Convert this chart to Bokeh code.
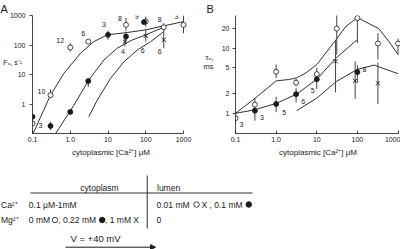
from bokeh.plotting import figure
from bokeh.layouts import column, row
from bokeh.models import (Range1d, FixedTicker, CustomJSTickFormatter, LabelSet, LogAxis,
                          ColumnDataSource, Arrow, NormalHead)
from bokeh.core.properties import value
from bokeh.embed import file_html
from bokeh.resources import INLINE
import math

FONT = "Liberation Sans"
INK = "#1a1a1a"

# ---------------- Panel A : open probability rate F_o ----------------
a_open_x = [0.1, 0.3, 1.0, 3.0, 30, 100, 300, 1000]
a_open_y = [0.22, 2.0, 82, 130, 480, 625, 400, 480]
a_open_lo = [0.22, 1.7, 60, 130, 310, 420, 326, 250]
a_open_hi = [0.22, 3.1, 115, 130, 820, 925, 550, 1000]
a_open_n = ["3", "10", "12", "6", "8", "", "8", "3"]

a_fill_x = [0.1, 0.3, 1.0, 3.0, 10, 30, 90]
a_fill_y = [0.37, 0.18, 0.54, 6.0, 221, 193, 597]
a_fill_lo = [0.37, 0.13, 0.54, 3.8, 150, 130, 480]
a_fill_hi = [0.37, 0.25, 0.54, 7.5, 310, 286, 750]
a_fill_n = ["", "", "", "", "3", "", "9"]

a_x_x = [28, 100, 300]
a_x_y = [130, 204, 149]
a_x_lo = [88, 130, 78]
a_x_hi = [193, 326, 326]
a_x_n = ["4", "6", "6"]

a_c0_x = [0.104, 0.3, 0.68, 1.88, 4.2, 9.6, 32.5, 100, 304, 1030]
a_c0_y = [0.1, 2.0, 11, 53, 130, 221, 265, 326, 446, 625]
a_c1_x = [0.41, 1.25, 3.1, 7.8, 17.6, 40, 100, 304]
a_c1_y = [0.1, 0.91, 6.5, 31, 78, 141, 221, 402]
a_c2_x = [3.1, 5.2, 11.7, 26.4, 60, 135, 304]
a_c2_y = [0.37, 1.36, 7.4, 27, 68, 130, 286]

# ---------------- Panel B : open time constant tau_o ----------------
b_open_x = [0.1, 0.3, 1.0, 3.1, 10, 31, 100, 320, 1000]
b_open_y = [0.84, 1.36, 4.36, 2.96, 4.0, 20, 29, 11.8, 11.8]
b_open_lo = [0.84, 1.15, 3.5, 2.6, 3.3, 8, 12, 6.7, 8]
b_open_hi = [0.84, 1.7, 5.6, 3.4, 5.0, 34, 33, 17, 14]
b_open_n = ["3", "", "", "", "", "", "", "", ""]

b_fill_x = [0.3, 1.0, 3.1, 10, 100]
b_fill_y = [1.1, 1.39, 1.97, 3.34, 4.3]
b_fill_lo = [0.77, 1.04, 1.47, 2.35, 3.0]
b_fill_hi = [1.47, 1.8, 2.43, 4.2, 5.5]
b_fill_n = ["3", "5", "6", "5", "8"]

b_x_x = [29, 88, 320]
b_x_y = [6.3, 3.15, 2.9]
b_x_lo = [2.1, 1.66, 1.39]
b_x_hi = [13, 6.3, 6.0]
b_x_n = ["", "", ""]

b_c0_x = [0.1, 0.32, 1.0, 2.0, 3.2, 5.5, 10, 30, 52, 100, 336, 590, 1000]
b_c0_y = [1.0, 1.75, 3.15, 3.3, 3.5, 4.2, 5.6, 13.6, 21.6, 29.5, 20, 12.8, 8.0]
b_c1_x = [0.1, 0.29, 1.0, 3.2, 10, 30, 100]
b_c1_y = [1.0, 1.13, 1.42, 1.97, 3.34, 7.1, 13.6]
b_c2_x = [3.2, 10, 30, 100, 260, 1000]
b_c2_y = [1.1, 1.71, 3.07, 4.74, 5.5, 4.06]

x_ticks = [0.1, 1, 10, 100, 1000]
a_y_ticks = [1, 10, 100, 1000]
b_y_ticks = [1, 2, 5, 10, 20]
x_title = "cytoplasmic [Ca\u00b2\u207a] \u03bcM"
a_y_title = "F\u2092, s\u207b\u00b9"
b_y_title = ["\u03c4\u2092,", "ms"]

# label offsets (screen px): layout only
a_lab_off = {"open": [(8, 2), (-9, -4), (-10, -7), (-5, -8), (-6, -6), None, (-4, -8), (-7, -8)],
             "fill": [None, None, None, None, (-4, -10), None, (-7, -6)],
             "x": [(-2, 10), (-3, 15), (-4, 12)]}
b_lab_off = {"open": [(6, 6)] + [None] * 8,
             "fill": [(7, 7), (8, 8), (7, 7), (-4, 11), (7, -3)],
             "x": [None, None, None]}

XFMT = CustomJSTickFormatter(code="""
if (Math.abs(tick - 0.1) < 1e-9) return "0.1";
if (Math.abs(tick - 1) < 1e-9) return "1.0";
return tick.toFixed(0);""")


def base_style(ax):
    ax.axis_line_color = INK
    ax.axis_line_width = 0.8
    ax.major_tick_line_color = INK
    ax.major_tick_line_width = 0.8
    ax.minor_tick_line_color = None
    ax.major_label_text_font = FONT
    ax.major_label_text_font_size = "7px"
    ax.major_label_text_color = INK
    ax.major_label_standoff = 3


def style_panel(p, letter, letter_off):
    p.xaxis.ticker = FixedTicker(ticks=x_ticks)
    p.xaxis.formatter = XFMT
    p.xaxis.bounds = (0.1, 1000)
    for ax in p.axis:
        base_style(ax)
    p.xaxis.major_tick_in = 3
    p.xaxis.major_tick_out = 0
    p.yaxis.major_tick_in = 0
    p.yaxis.major_tick_out = 3
    p.xaxis.axis_label = x_title
    p.xaxis.axis_label_text_font = FONT
    p.xaxis.axis_label_text_font_style = "normal"
    p.xaxis.axis_label_text_color = INK
    p.xaxis.axis_label_text_font_size = "8px"
    p.xaxis.axis_label_standoff = 3
    p.title.text = letter
    p.title.align = "left"
    p.title.offset = letter_off
    p.title.standoff = 1
    p.title.text_font = FONT
    p.title.text_font_size = "11px"
    p.title.text_font_style = "normal"
    p.title.text_color = INK
    p.grid.visible = False
    p.outline_line_color = None


def outer_label_axis(p, ticks, labels, size, standoff):
    code = """
for (let i = 0; i < vals.length; i++) {
  if (Math.abs(Math.log10(tick) - Math.log10(vals[i])) < 1e-6) return labs[i];
}
return tick.toFixed(0);"""
    ax = LogAxis(ticker=FixedTicker(ticks=ticks),
                 formatter=CustomJSTickFormatter(args=dict(vals=ticks, labs=labels), code=code))
    base_style(ax)
    ax.axis_line_color = None
    ax.major_tick_line_color = None
    ax.major_tick_in = 0
    ax.major_tick_out = 0
    ax.major_label_standoff = standoff
    ax.major_label_text_font_size = size
    p.add_layout(ax, "left")
    return ax


def panel(xr, yr, border_lr, border_tb):
    return figure(width=200, height=160, x_axis_type="log", y_axis_type="log",
                  x_range=Range1d(*xr), y_range=Range1d(*yr),
                  output_backend="svg", toolbar_location=None,
                  min_border_left=border_lr[0], min_border_right=border_lr[1],
                  min_border_top=border_tb[0], min_border_bottom=border_tb[1])


def draw_series(p, curves, series, offsets):
    for cx, cy in curves:
        p.line(cx, cy, line_color=INK, line_width=0.9)
    for (sx, sy, lo, hi, n, kind) in series:
        p.segment(x0=sx, y0=lo, x1=sx, y1=hi, line_color="#444444", line_width=1)
    lx, ly, lt, ldx, ldy = [], [], [], [], []
    for (sx, sy, lo, hi, n, kind) in series:
        if kind == "open":
            p.scatter(sx, sy, marker="circle", size=5, fill_color="white",
                      line_color=INK, line_width=0.8)
        elif kind == "fill":
            p.scatter(sx, sy, marker="circle", size=5, fill_color=INK,
                      line_color=INK, line_width=0.8)
        else:
            p.scatter(sx, sy, marker="x", size=6, line_color=INK, line_width=0.9)
        for i, t in enumerate(n):
            off = offsets[kind][i]
            if t and off is not None:
                lx.append(sx[i]); ly.append(sy[i]); lt.append(t)
                ldx.append(off[0]); ldy.append(-off[1])
    src = ColumnDataSource(dict(x=lx, y=ly, t=lt, dx=ldx, dy=ldy))
    p.add_layout(LabelSet(x="x", y="y", text="t", x_offset="dx", y_offset="dy", source=src,
                          text_font=value(FONT), text_font_size="7px", text_color=INK,
                          text_align="center", text_baseline="middle"))


# ---- Panel A ---- (frame: page x 32..189, y 15..133)
pA = panel((0.1, 10 ** (3 + 6 / 37.75)), (0.1, 1000), (32, 11), (15, 27))
style_panel(pA, "A", -32)
# inner axis: line + ticks only
pA.yaxis[0].ticker = FixedTicker(ticks=a_y_ticks)
pA.yaxis[0].formatter = CustomJSTickFormatter(code="return '';")
pA.yaxis[0].major_label_standoff = 0
pA.yaxis[0].bounds = (0.1, 1000)
# outer axis: tick labels + horizontal title placed at page y = 62
a_title_v = 10 ** (-1 + (133 - 62) / 118 * 4)
outer_label_axis(pA, a_y_ticks + [a_title_v],
                 [str(t) for t in a_y_ticks] + [a_y_title + "\u2002"], "7px", 4)
draw_series(pA,
            [(a_c0_x, a_c0_y), (a_c1_x, a_c1_y), (a_c2_x, a_c2_y)],
            [(a_open_x, a_open_y, a_open_lo, a_open_hi, a_open_n, "open"),
             (a_fill_x, a_fill_y, a_fill_lo, a_fill_hi, a_fill_n, "fill"),
             (a_x_x, a_x_y, a_x_lo, a_x_hi, a_x_n, "x")], a_lab_off)

# ---- Panel B ---- (frame: page x 232..400, y 15..133)
B_LO, B_HI = 0.49, 31.8
pB = panel((0.1, 10 ** (3 + 2.5 / 41.3)), (B_LO, B_HI), (32, 0), (15, 27))
style_panel(pB, "B", -29)
pB.yaxis[0].ticker = FixedTicker(ticks=b_y_ticks)
pB.yaxis[0].formatter = CustomJSTickFormatter(code="return tick.toFixed(0);")
pB.yaxis[0].bounds = (B_LO, B_HI)
l0, l1 = math.log10(B_LO), math.log10(B_HI)
b_title_v = [10 ** (l0 + (133 - py) / 118 * (l1 - l0)) for py in (57, 66)]
outer_label_axis(pB, b_title_v, b_y_title, "7.5px", 5)
draw_series(pB,
            [(b_c0_x, b_c0_y), (b_c1_x, b_c1_y), (b_c2_x, b_c2_y)],
            [(b_open_x, b_open_y, b_open_lo, b_open_hi, b_open_n, "open"),
             (b_fill_x, b_fill_y, b_fill_lo, b_fill_hi, b_fill_n, "fill"),
             (b_x_x, b_x_y, b_x_lo, b_x_hi, b_x_n, "x")], b_lab_off)

# ---- bottom table (page-pixel coordinates) ----
pT = figure(width=400, height=89, x_range=Range1d(0, 400), y_range=Range1d(249, 160),
            output_backend="svg", toolbar_location=None,
            x_axis_location=None, y_axis_location=None, min_border=0)
pT.grid.visible = False
pT.outline_line_color = None

tbl_head = ["cytoplasm", "lumen"]
ca_row = ["Ca\u00b2\u207a", "0.1 \u03bcM-1mM", "0.01 mM", "X , 0.1 mM"]
mg_row = ["Mg\u00b2\u207a", "0 mM", ", 0.22 mM", ", 1 mM X", "0"]
voltage = "V = +40 mV"

TF = value(FONT)


def ttext(xs, ys, texts, align="left", size="8.5px"):
    pT.text(x=xs, y=ys, text=texts, text_font=TF, text_font_size=size, text_color=INK,
            text_align=align, text_baseline="middle")


ttext([99], [187.3], tbl_head[:1], align="center")
ttext([156.5], [187.3], tbl_head[1:])
ttext([0.5, 28.3, 156, 201], [204] * 4, ca_row)
ttext([0.5, 28.3, 57.8, 104.5, 156], [219.5] * 5, mg_row)
# symbol keys
pT.scatter([196, 54.5], [204, 219.5], marker="circle", size=5.5, fill_color="white",
           line_color=INK, line_width=0.8)
pT.scatter([248.3, 101.7], [204, 219.5], marker="circle", size=5.5, fill_color=INK,
           line_color=INK)
pT.segment(x0=[30, 146.7], y0=[192.5, 175], x1=[252, 146.7], y1=[192.5, 228],
           line_color=INK, line_width=0.9)
ttext([95], [238.3], [voltage], align="center", size="9.5px")
pT.add_layout(Arrow(x_start=65, y_start=246.7, x_end=155, y_end=246.7, line_color=INK,
                    line_width=1, end=NormalHead(size=5, fill_color=INK, line_color=INK)))

layout = column(row(pA, pB), pT)
open("out.html", "w").write(file_html(layout, INLINE))
